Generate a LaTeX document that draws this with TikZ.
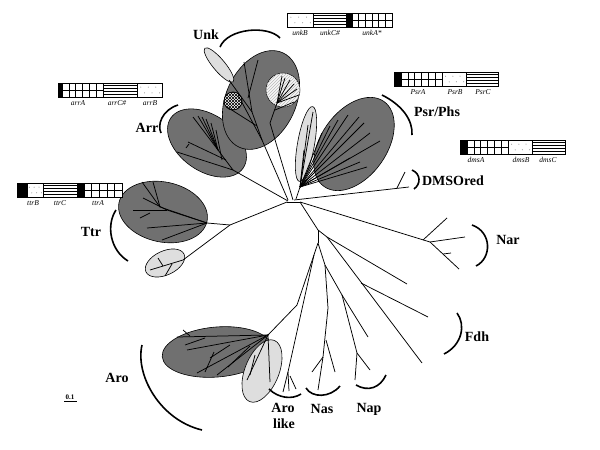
\documentclass[tikz,border=0pt]{standalone}
\usepackage{fontspec}
\setmainfont{Liberation Serif}
\usetikzlibrary{patterns}
\definecolor{darkg}{RGB}{112,112,112}
\definecolor{lightg}{RGB}{222,222,222}
\newcommand\SegBlack[4]{\fill[black] (#1,#3) rectangle (#2,#4);}
\newcommand\SegGrid[5]{%
  \draw[fill=white] (#1,#3) rectangle (#2,#4);
  \draw (#1,{(#3+#4)/2}) -- (#2,{(#3+#4)/2});
  \foreach \k in {1,...,#5} \draw ({#1+(#2-#1)*\k/#5},#3) -- ({#1+(#2-#1)*\k/#5},#4);}
\newcommand\SegLines[4]{%
  \draw[fill=white] (#1,#3) rectangle (#2,#4);
  \foreach \k in {1,...,4} \draw[line width=1.1pt] (#1,{#3+(#4-#3)*\k/5}) -- (#2,{#3+(#4-#3)*\k/5});}
\newcommand\SegDots[4]{%
  \draw[fill=white] (#1,#3) rectangle (#2,#4);
  \foreach \u in {0.15,0.45,0.75} \fill[gray] ({#1+(#2-#1)*\u},{#3+(#4-#3)*0.3}) circle (0.5pt);
  \foreach \u in {0.3,0.6,0.9} \fill[gray] ({#1+(#2-#1)*\u},{#3+(#4-#3)*0.7}) circle (0.5pt);}
\begin{document}
\begin{tikzpicture}[x=1pt,y=-1pt,
  lab/.style={font=\fontsize{14}{15}\selectfont\bfseries, inner sep=0pt},
  gene/.style={font=\fontsize{7.5}{8}\selectfont\itshape, inner sep=0pt},
  br/.style={line width=0.75pt},
  brace/.style={line width=1.6pt},
  darkell/.style={fill=darkg, draw=black, line width=0.6pt},
  lightell/.style={fill=lightg, draw=black, line width=0.6pt}]
\useasboundingbox (0,0) rectangle (600,450);

% ---------- ellipses ----------
\draw[darkell] (207,143) ellipse [x radius=44pt, y radius=28pt, rotate=-35];
\draw[darkell] (261,100) ellipse [x radius=52pt, y radius=35pt, rotate=65];
\draw[lightell] (219,65) ellipse [x radius=22pt, y radius=6pt, rotate=-50];
\draw[fill=gray!6, draw=black, line width=0.5pt] (283,90) circle (17pt);
\fill[pattern=north east lines, pattern color=gray!55] (283,90) circle (17pt);
\draw[fill=white, draw=black, line width=0.5pt] (233,101) circle (9pt);
\begin{scope}
  \clip (233,101) circle (9pt);
  \foreach \d in {-15,-12,...,15} {
    \draw[line width=0.45pt] ({233+\d-12},113) -- ({233+\d+12},89);
    \draw[line width=0.45pt] ({233+\d-12},89) -- ({233+\d+12},113);
  }
\end{scope}
\draw[black, line width=0.5pt] (233,101) circle (9pt);
\draw[lightell] (306,144) ellipse [x radius=38pt, y radius=8.5pt, rotate=80];
\draw[darkell] (354,144) ellipse [x radius=52pt, y radius=33pt, rotate=55];
\draw[darkell] (163,212) ellipse [x radius=45pt, y radius=30pt, rotate=-12];
\draw[lightell] (165,263) ellipse [x radius=21pt, y radius=12pt, rotate=25];
\draw[darkell] (217,352) ellipse [x radius=55pt, y radius=25pt, rotate=5];
\draw[lightell] (262,371) ellipse [x radius=33pt, y radius=17pt, rotate=68];

% ---------- tree ----------
% root
\draw[br] (287,202) -- (300,202);
% Arr
\draw[br] (288,201) -- (233,170) -- (218,150);
\foreach \p in {(193,117),(198,116),(202,117),(206,119),(211,123)} \draw[br] (218,150) -- \p;
\draw[br] (226,160) -- (188,142);
\draw[br] (189,144) -- (186,148);
\draw[br] (233,170) -- (177,152);
\draw[br] (222,160) -- (216,130);
% Unk
\draw[br] (288,200) -- (262,140) -- (252,112) -- (244,62);
\draw[br] (262,140) -- (238,95);
\draw[br] (252,112) -- (229,80);
\draw[br] (257,126) -- (227,107);
\draw[br] (248,98) -- (258,60);
\draw[br] (293,200) -- (270,123) -- (277,103);
\foreach \p in {(285,78),(290,80),(294,84),(297,89),(299,95),(282,76)} \draw[br] (277,103) -- \p;
\draw[br] (275,110) -- (294,102);
% Psr/Phs
\draw[br] (296,199) -- (300,187);
\foreach \p in {(370,133),(380,141),(364,123),(359,117),(348,115),(338,120),(330,126),(367,167),(360,162),(350,158),(322,133)} \draw[br] (300,187) -- \p;
\draw[br] (300,187) -- (313,112);
\draw[br] (300,187) -- (304,150);
\draw[br] (300,187) -- (308,125);
% DMSOred
\draw[br] (294,200) -- (409,187);
\draw[br] (397,188) -- (405,172);
% Nar
\draw[br] (300,202) -- (430,242);
\draw[br] (423,240) -- (447,218);
\draw[br] (430,242) -- (465,237);
\draw[br] (430,242) -- (459,269);
\draw[br] (443,254) -- (451,253);
% Fdh
\draw[br] (300,202) -- (318,230) -- (327,237);
\draw[br] (327,237) -- (407,284);
\draw[br] (327,237) -- (422,363);
\draw[br] (361,283) -- (428,317);
% lower clades
\draw[br] (318,230) -- (318,243);
\draw[br] (318,243) -- (297,305) -- (268,335);
\draw[br] (314,255) -- (288,372);
\draw[br] (288,372) -- (283,392);
\draw[br] (288,372) -- (289,391);
\draw[br] (290,376) -- (296,389);
% Aro
\foreach \p in {(177,337),(187,350),(197,373),(217,375),(247,380),(270,382)} \draw[br] (268,335) -- \p;
\draw[br] (205,338) -- (185,345);
\draw[br] (230,345) -- (210,358);
\draw[br] (214,352) -- (205,372);
\draw[br] (250,346) -- (228,367);
\draw[br] (255,355) -- (250,375);
\draw[br] (190,336) -- (183,330);
% Nas / Nap
\draw[br] (318,243) -- (325,265) -- (328,308) -- (323,357);
\draw[br] (323,357) -- (312,372);
\draw[br] (323,357) -- (318,390);
\draw[br] (326,340) -- (335,372);
\draw[br] (325,265) -- (342,295) -- (368,337);
\draw[br] (342,295) -- (357,353);
\draw[br] (357,353) -- (370,370);
\draw[br] (357,353) -- (355,380);
% Ttr
\draw[br] (287,202) -- (230,225) -- (207,223);
\draw[br] (207,223) -- (160,207) -- (142,182);
\draw[br] (160,207) -- (153,182);
\draw[br] (207,223) -- (167,210) -- (143,198);
\draw[br] (167,210) -- (133,210);
\draw[br] (150,213) -- (140,218);
\draw[br] (207,223) -- (147,228);
\draw[br] (207,223) -- (162,240);
\draw[br] (230,225) -- (183,260) -- (150,270);
\draw[br] (172,264) -- (165,276);
\draw[br] (163,266) -- (158,258);

% ---------- braces ----------
\draw[brace] (220,47) .. controls (228,28) and (268,25) .. (280,38);
\draw[brace] (178,105) .. controls (162,110) and (157,125) .. (161,133);
\draw[brace] (382,95) .. controls (402,105) and (413,120) .. (412,135);
\draw[brace] (412,170) .. controls (421,174) and (421,184) .. (414,189);
\draw[brace] (472,225) .. controls (492,232) and (492,258) .. (476,266);
\draw[brace] (457,313) .. controls (466,325) and (462,345) .. (444,354);
\draw[brace] (356,385) .. controls (368,392) and (380,388) .. (386,375);
\draw[brace] (306,388) .. controls (312,398) and (330,398) .. (340,386);
\draw[brace] (269,389) .. controls (278,398) and (292,400) .. (301,394);
\draw[brace] (142,345) .. controls (135,375) and (160,420) .. (202,430);
\draw[brace] (116,210) .. controls (106,225) and (110,250) .. (128,261);

% ---------- labels ----------
\node[lab] (lunk) at (206,35) {Unk};
\node[lab] (larr) at (147,128) {Arr};
\node[lab] (lpsr) at (437,112) {Psr/Phs};
\node[lab] (ldms) at (453,181) {DMSOred};
\node[lab] (lttr) at (91,232) {Ttr};
\node[lab] (lnar) at (508,240) {Nar};
\node[lab] (lfdh) at (477,337) {Fdh};
\node[lab] (laro) at (117,378) {Aro};
\node[lab] (laro1) at (283,408) {Aro};
\node[lab] (laro2) at (284,424) {like};
\node[lab] (lnas) at (322,409) {Nas};
\node[lab] (lnap) at (369,409) {Nap};
\node[font=\fontsize{7}{8}\selectfont\bfseries, inner sep=0pt] (scale) at (70,397) {0.1};
\draw[line width=0.6pt] (64,401) -- (77,401);

% ---------- gene bars ----------
% Unk
\SegDots{287}{313}{13}{27}
\SegLines{313}{346}{13}{27}
\SegBlack{346}{352}{13}{27}
\SegGrid{352}{392}{13}{27}{6}
\draw[line width=0.6pt] (287,13) rectangle (392,27);
\node[gene] (g1) at (300,33) {unkB};
\node[gene] (g2) at (330,33) {unkC\#};
\node[gene] (g3) at (372,33) {unkA*};
% Arr
\SegBlack{58}{62}{83}{97}
\SegGrid{62}{103}{83}{97}{6}
\SegLines{103}{137}{83}{97}
\SegDots{137}{162}{83}{97}
\draw[line width=0.6pt] (58,83) rectangle (162,97);
\node[gene] (g4) at (78,103) {arrA};
\node[gene] (g5) at (117,103) {arrC\#};
\node[gene] (g6) at (150,103) {arrB};
% Psr
\SegBlack{394}{401}{72}{86}
\SegGrid{401}{442}{72}{86}{6}
\SegDots{442}{466}{72}{86}
\SegLines{466}{498}{72}{86}
\draw[line width=0.6pt] (394,72) rectangle (498,86);
\node[gene] (g7) at (418,92) {PsrA};
\node[gene] (g8) at (455,92) {PsrB};
\node[gene] (g9) at (483,92) {PsrC};
% DMS
\SegBlack{460}{467}{140}{154}
\SegGrid{467}{508}{140}{154}{6}
\SegDots{508}{532}{140}{154}
\SegLines{532}{565}{140}{154}
\draw[line width=0.6pt] (460,140) rectangle (565,154);
\node[gene] (g10) at (476,160) {dmsA};
\node[gene] (g11) at (521,160) {dmsB};
\node[gene] (g12) at (548,160) {dmsC};
% Ttr
\SegBlack{17}{27}{183}{197}
\SegDots{27}{43}{183}{197}
\SegLines{43}{77}{183}{197}
\SegBlack{77}{84}{183}{197}
\SegGrid{84}{122}{183}{197}{5}
\draw[line width=0.6pt] (17,183) rectangle (122,197);
\node[gene] (g13) at (33,203) {ttrB};
\node[gene] (g14) at (60,203) {ttrC};
\node[gene] (g15) at (98,203) {ttrA};
\end{tikzpicture}
\end{document}
